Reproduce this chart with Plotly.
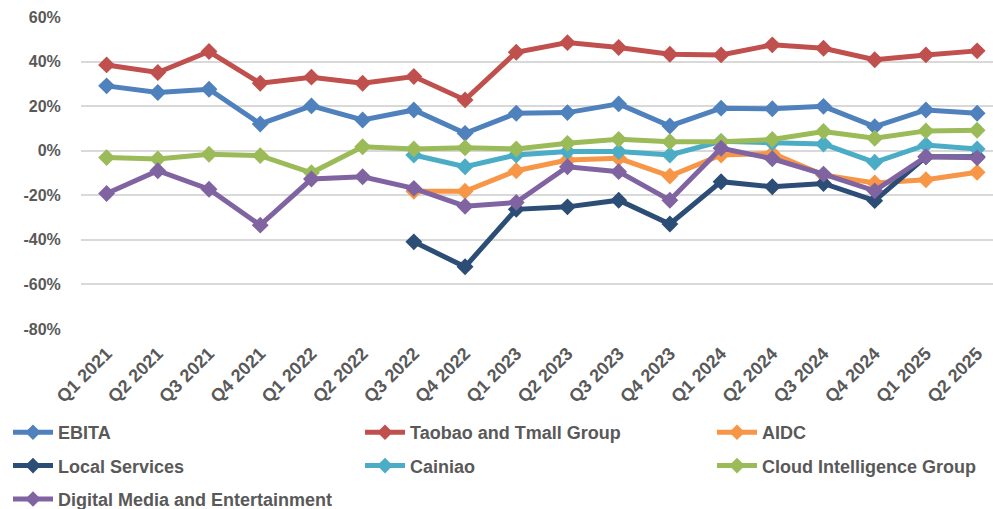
import plotly.graph_objects as go

quarters = ["Q1 2021", "Q2 2021", "Q3 2021", "Q4 2021", "Q1 2022", "Q2 2022", "Q3 2022", "Q4 2022",
            "Q1 2023", "Q2 2023", "Q3 2023", "Q4 2023", "Q1 2024", "Q2 2024", "Q3 2024", "Q4 2024",
            "Q1 2025", "Q2 2025"]

ebita = [29.1, 26.1, 27.6, 12.0, 20.1, 13.8, 18.3, 7.8, 16.8, 17.1, 21.0, 11.1, 19.1, 18.8, 19.9, 10.8, 18.3, 16.8]
taobao = [38.5, 35.1, 44.5, 30.3, 33.0, 30.3, 33.3, 22.8, 44.2, 48.5, 46.3, 43.3, 43.0, 47.5, 46.0, 40.8, 43.0, 44.8]
aidc = [None, None, None, None, None, None, -18.2, -18.2, -9.0, -4.2, -3.4, -11.4, -1.9, -1.2, -10.9, -14.5, -13.0, -9.7]
local = [None, None, None, None, None, None, -40.9, -52.1, -26.3, -25.2, -22.2, -32.9, -13.9, -16.2, -14.7, -22.4, -2.7, -2.7]
cainiao = [None, None, None, None, None, None, -1.9, -7.2, -1.9, -0.4, -0.4, -1.9, 4.2, 3.6, 3.0, -5.2, 2.6, 0.8]
cloud = [-3.1, -3.7, -1.6, -2.2, -9.9, 1.8, 0.8, 1.3, 0.8, 3.3, 5.1, 4.0, 4.0, 5.0, 8.6, 5.6, 8.9, 9.2]
dme = [-19.2, -9.0, -17.3, -33.4, -12.7, -11.7, -16.9, -24.9, -23.2, -7.2, -9.4, -22.2, 1.1, -3.6, -10.5, -18.0, -2.7, -3.2]

y_tick_vals = [60, 40, 20, 0, -20, -40, -60, -80]
y_tick_text = ["60%", "40%", "20%", "0%", "-20%", "-40%", "-60%", "-80%"]

series = [
    ("EBITA", ebita, "#4F81BD", "legend"),
    ("Taobao and Tmall Group", taobao, "#C0504D", "legend2"),
    ("AIDC", aidc, "#F79646", "legend3"),
    ("Local Services", local, "#2C4D75", "legend"),
    ("Cainiao", cainiao, "#4BACC6", "legend2"),
    ("Cloud Intelligence Group", cloud, "#9BBB59", "legend3"),
    ("Digital Media and Entertainment", dme, "#8064A2", "legend"),
]

fig = go.Figure()
for name, vals, color, lg in series:
    fig.add_trace(go.Scatter(
        x=quarters, y=vals, name=name, mode="lines+markers",
        line=dict(color=color, width=5),
        marker=dict(symbol="diamond", size=13, color=color),
        connectgaps=False, legend=lg, legendgroup=name,
    ))

font_family = "Liberation Sans, Arial, sans-serif"

# plot area in pixels
L, T, B, H = 81, 17, 180, 509
W = 993
pw = W - L
ph = H - T - B


def px_x(x):
    return (x - L) / pw


def px_y(y):
    return (H - B - y) / ph


legend_common = dict(
    orientation="v", xanchor="left", yanchor="top", xref="paper", yref="paper",
    font=dict(family=font_family, size=18, color="#595959", weight="bold"),
    bgcolor="rgba(0,0,0,0)", tracegroupgap=7, itemwidth=40, itemsizing="constant",
)
leg_top = 414

fig.update_layout(
    width=W, height=H,
    margin=dict(l=L, r=0, t=T, b=B, autoexpand=False),
    plot_bgcolor="white", paper_bgcolor="white",
    showlegend=True,
    legend=dict(x=px_x(8), y=px_y(leg_top), **legend_common),
    legend2=dict(x=px_x(360), y=px_y(leg_top), **legend_common),
    legend3=dict(x=px_x(712), y=px_y(leg_top), **legend_common),
    xaxis=dict(
        type="category", range=[-0.5, 17.31], tickangle=-45, showgrid=False,
        showline=False, zeroline=False, ticks="outside", ticklen=6, tickcolor="rgba(0,0,0,0)",
        tickfont=dict(family=font_family, size=18, color="#595959", weight="bold"),
    ),
    yaxis=dict(
        range=[-80, 60], tickmode="array", tickvals=y_tick_vals, ticktext=y_tick_text,
        showgrid=True, gridcolor="#D9D9D9",
        gridwidth=2, zeroline=True, zerolinecolor="#D9D9D9", zerolinewidth=2,
        showline=False, ticks="outside", ticklen=16, tickcolor="rgba(0,0,0,0)",
        tickfont=dict(family=font_family, size=16, color="#595959", weight="bold"),
    ),
)

fig.write_html("out.html")
